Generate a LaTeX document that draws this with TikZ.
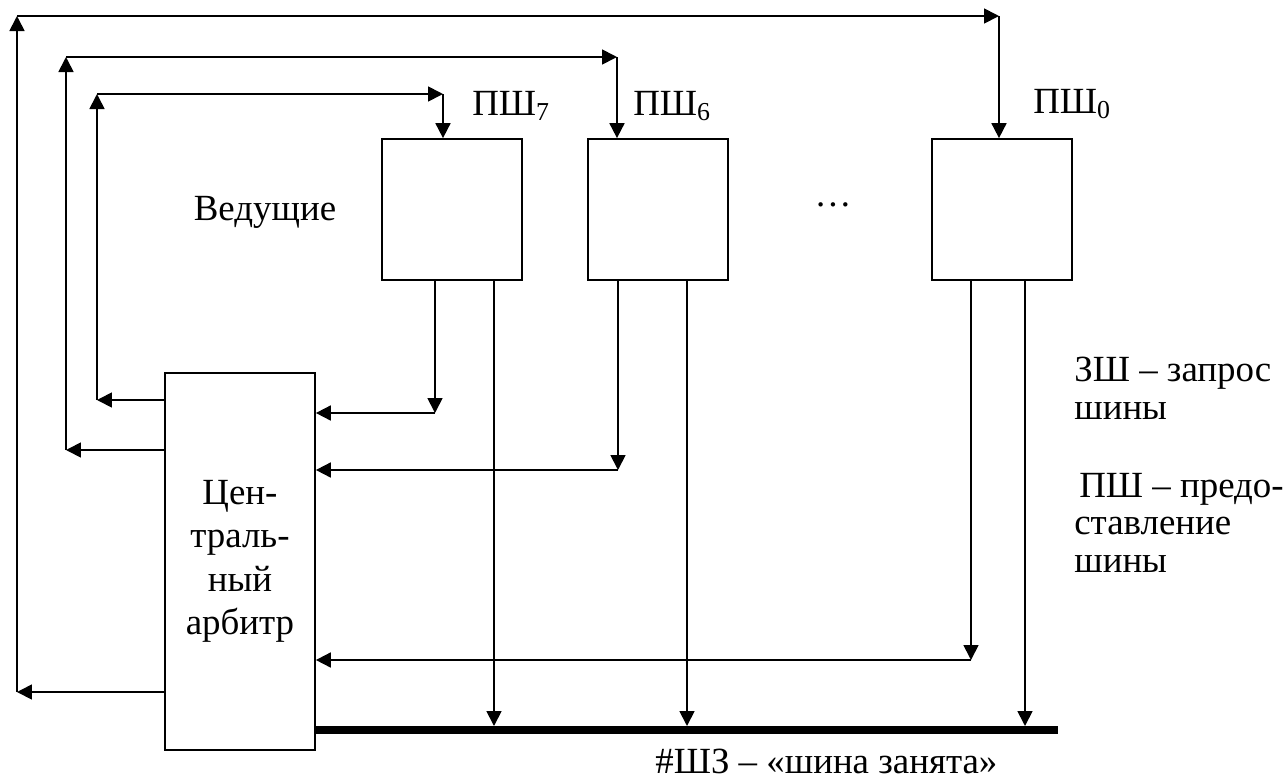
\documentclass[tikz,border=0pt]{standalone}
\usepackage{fontspec}
\setmainfont{Liberation Serif}
\usetikzlibrary{arrows.meta,positioning}

\begin{document}
\begin{tikzpicture}[x=0.02cm,y=-0.02cm,
    font=\fontsize{21}{24.7}\selectfont,
    master/.style={draw,line width=1pt,minimum width=2.8cm,
      minimum height=2.82cm,inner sep=0pt},
    arbiter/.style={draw,line width=1pt,minimum width=3cm,
      minimum height=7.54cm,align=center,inner sep=0pt},
    lbl/.style={inner sep=0pt,anchor=base west},
    note/.style={inner sep=0pt,anchor=north west,align=left,
      font=\fontsize{21}{21.2}\selectfont},
    arr/.style={-{Triangle[length=3mm,width=3mm]},line width=1pt}
  ]
    \useasboundingbox (0,0) rectangle (1286,782);
    \node[master] (m7) at (452,209.5) {};
    \node[master] (m6) at (658,209.5) {};
    \node[master] (m0) at (1002,209.5) {};
    \node[arbiter] (arb) at (240,561.5) {Цен-\\траль-\\ный\\арбитр};
    \node[inner sep=0pt,anchor=base] (lead) at (265,220) {Ведущие};
    \node[inner sep=0pt,anchor=base] (dots) at (833,206) {\ldots};
    \node[lbl] (p7) at (472,115) {ПШ\textsubscript{7}};
    \node[lbl] (p6) at (633,115) {ПШ\textsubscript{6}};
    \node[lbl] (p0) at (1033,113) {ПШ\textsubscript{0}};
    \node[note] (req) at (1074,357) {ЗШ – запрос\\шины};
    \node[note] (gnt) at (1074,473) {\hspace*{1mm}ПШ – предо-\\ставление\\шины};
    \node[lbl] (busy) at (655,773) {\#ШЗ – «шина занята»};
    % grant lines
    \foreach \m/\lx/\ly/\ty/\dx in {m7/97/400/94/443,m6/66/450/57/617,m0/17/692/16/999}{
      \coordinate (l\m) at (\lx,\ly);
      \coordinate (t\m) at (\lx,\ty);
      \coordinate (d\m) at (\dx,\ty);
      \draw[arr] (arb.west|-l\m) -- (l\m);
      \draw[arr] (l\m) -- (t\m);
      \draw[arr] (t\m) -- (d\m);
      \draw[arr] (d\m) -- (\m.north-|d\m);
    }
    % request lines
    \foreach \m/\rx/\ry in {m7/435/413,m6/618/470,m0/971/660}{
      \coordinate (q\m) at (\rx,\ry);
      \draw[arr] (\m.south-|q\m) -- (q\m);
      \draw[arr] (q\m) -- (arb.east|-q\m);
    }
    % busy bus
    \coordinate (busend) at (1058,730);
    \draw[line width=4.3pt] (arb.east|-busend) -- (busend);
    \foreach \m/\bx in {m7/494,m6/687,m0/1025}{
      \coordinate (b\m) at (\bx,726);
      \draw[arr] (\m.south-|b\m) -- (b\m);
    }
  \end{tikzpicture}
\end{document}
